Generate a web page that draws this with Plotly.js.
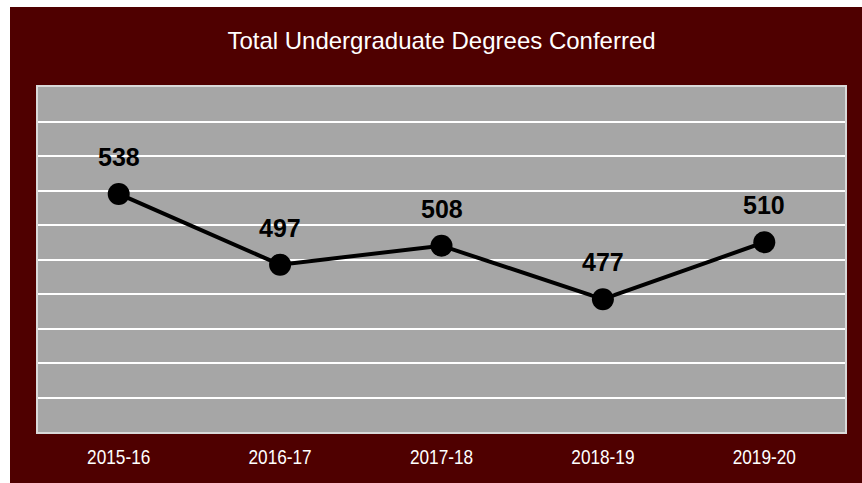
<!DOCTYPE html>
<html>
<head>
<meta charset="utf-8">
<script src="https://cdn.plot.ly/plotly-3.0.1.min.js"></script>
<style>
  html, body { margin: 0; padding: 0; background: #ffffff; width: 862px; height: 483px; overflow: hidden; }
  #chart { position: absolute; left: 10px; top: 7px; width: 852px; height: 476px; }
</style>
</head>
<body>
<div id="chart"></div>
<script>
const categories = ["2015-16", "2016-17", "2017-18", "2018-19", "2019-20"];
const degrees = [538, 497, 508, 477, 510];
const chartTitle = "Total Undergraduate Degrees Conferred";

const trace = {
  type: "scatter",
  mode: "lines+markers",
  x: categories,
  y: degrees,
  line: { color: "#000000", width: 4 },
  marker: { color: "#000000", size: 22 },
  cliponaxis: false,
  hoverinfo: "x+y"
};

const labelAnnotations = categories.map((c, i) => ({
  x: c,
  y: degrees[i],
  xref: "x",
  yref: "y",
  text: String(degrees[i]),
  showarrow: false,
  xanchor: "center",
  yanchor: "middle",
  yshift: 37,
  font: { family: "Liberation Sans, Arial, sans-serif", size: 25, color: "#000000", weight: "bold" }
}));

const layout = {
  width: 852,
  height: 476,
  paper_bgcolor: "#4f0000",
  plot_bgcolor: "#a6a6a6",
  margin: { l: 28, r: 17, t: 80, b: 51, pad: 0 },
  title: {
    text: chartTitle,
    font: { family: "Liberation Sans, Arial, sans-serif", size: 24, color: "#ffffff" },
    x: 0.5, xref: "paper", xanchor: "center",
    y: 0.9286, yref: "container", yanchor: "middle"
  },
  showlegend: false,
  annotations: labelAnnotations,
  xaxis: {
    type: "category",
    range: [-0.5, 4.5],
    showgrid: false,
    zeroline: false,
    showline: true, mirror: true, linecolor: "#d9d9d9", linewidth: 2,
    ticks: "",
    tickfont: { family: "Liberation Sans, Arial, sans-serif", size: 21, color: "#ffffff" },
    ticklabelstandoff: 5
  },
  yaxis: {
    range: [400, 600],
    dtick: 20,
    showgrid: true, gridcolor: "#ffffff", gridwidth: 2,
    zeroline: false,
    showline: true, mirror: true, linecolor: "#d9d9d9", linewidth: 2,
    showticklabels: false,
    ticks: ""
  }
};

Plotly.newPlot("chart", [trace], layout, { displayModeBar: false, staticPlot: true }).then(function (gd) {
  // narrow tick-label lettering, as in the reference
  gd.querySelectorAll(".xtick text").forEach(function (t) {
    const w = t.getComputedTextLength();
    t.setAttribute("textLength", (w * 0.82).toFixed(1));
    t.setAttribute("lengthAdjust", "spacingAndGlyphs");
  });
});
</script>
</body>
</html>
